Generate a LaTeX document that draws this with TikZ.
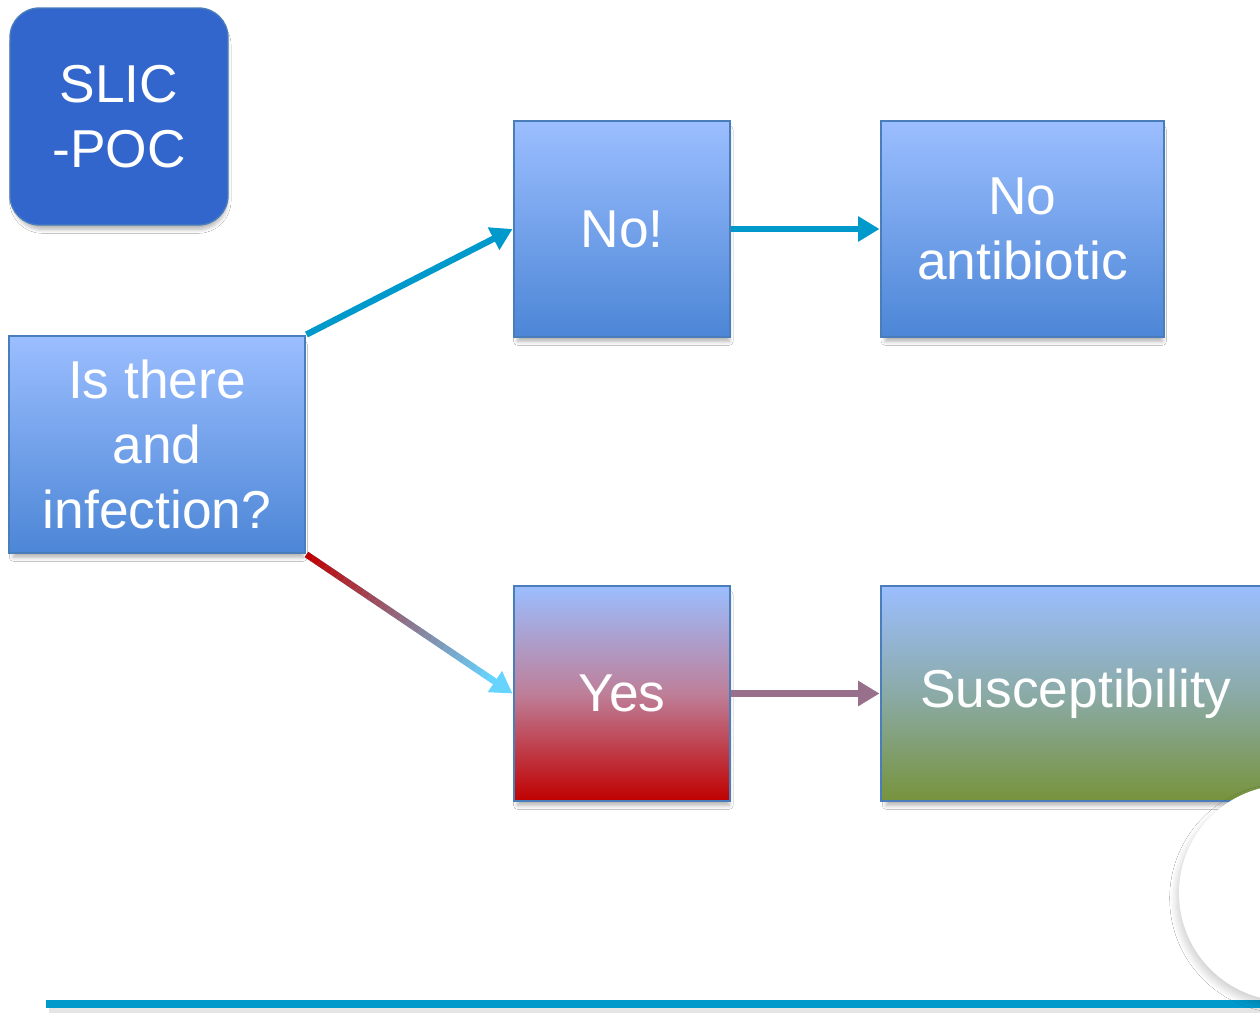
\documentclass[tikz,border=0pt]{standalone}
\usepackage{fontspec}
\setmainfont{Liberation Sans}
\usetikzlibrary{arrows.meta,shadows,shadows.blur,calc}
\definecolor{boxtop}{RGB}{155,190,255}
\definecolor{boxbot}{RGB}{76,134,214}
\definecolor{boxedge}{RGB}{74,126,187}
\definecolor{slicblue}{RGB}{51,102,204}
\definecolor{arrblue}{RGB}{0,153,204}
\definecolor{yesred}{RGB}{192,0,0}
\definecolor{arrcyan}{RGB}{102,212,255}
\definecolor{susgreen}{RGB}{119,147,60}
\definecolor{mauve}{RGB}{152,112,140}
\tikzset{
  softshadow/.style={blur shadow={shadow xshift=1pt, shadow yshift=-5pt, shadow scale=0.98, shadow blur radius=3pt, shadow blur steps=8, shadow opacity=30}},
  card/.style={rectangle, draw=boxedge, line width=2.2pt, top color=boxtop, bottom color=boxbot,
    text=white, font=\fontsize{40}{48.75}\selectfont, align=center, inner sep=0pt, softshadow},
  flowarrow/.style={line width=4.8pt, -{Triangle[length=16pt,width=18pt]}},
}
\begin{document}
\begin{tikzpicture}[x=0.75pt,y=-0.75pt]
\useasboundingbox (0,0) rectangle (1260,1017);
\clip (0,0) rectangle (1260,1017);
\fill[white] (0,0) rectangle (1260,1017);

% bottom rule
\coordinate (ruleA) at (46,1004);
\coordinate (ruleB) at (1262,1004);
\draw[line width=6pt, black, opacity=0.10] ($(ruleA)+(3,5)$) -- ($(ruleB)+(3,5)$);
\draw[line width=6pt, arrblue] (ruleA) -- (ruleB);

% title badge
\node[rectangle, rounded corners=22pt, fill=slicblue, draw=boxedge, line width=1pt,
  minimum width=163.5pt, minimum height=162.75pt, text=white, align=center,
  font=\fontsize{40}{48.75}\selectfont, softshadow] (slic) at (119,116.5) {SLIC\\-POC};

% boxes
\node[card, minimum width=222pt, minimum height=162.75pt] (isthere) at (157,444.5) {Is there\\and\\infection?};
\node[card, minimum width=162pt, minimum height=162pt] (no) at (622,229) {No!};
\node[card, minimum width=212.25pt, minimum height=162pt] (noab) at (1022.5,229) {No\\antibiotic};
\node[card, minimum width=162pt, minimum height=161.25pt, top color=boxtop, bottom color=yesred, middle color=boxtop!50!yesred!80!white] (yes) at (622,693.5) {Yes};
\node[card, minimum width=292.5pt, minimum height=161.25pt, top color=boxtop, bottom color=susgreen, middle color=boxtop!55!susgreen] (susc) at (1076,693.5) {Susceptibility};

% connectors
\draw[flowarrow, arrblue] (isthere.north east) -- (no.west);
\draw[flowarrow, arrblue] (no.east) -- (noab.west);

\draw[flowarrow, arrcyan] (isthere.south east) -- (yes.west);
\foreach \i in {0,...,29}{
  \pgfmathsetmacro\p{100-100*\i/29}
  \draw[line width=4.8pt, color=yesred!\p!arrcyan]
    ($(isthere.south east)!{0.91*\i/30}!(yes.west)$) -- ($(isthere.south east)!{0.91*(\i+1)/30}!(yes.west)$);
}
\draw[flowarrow, mauve] (yes.east) -- (susc.west);

% overlapping white disc
\node[circle, fill=white, minimum size=162pt, inner sep=0pt,
  blur shadow={shadow xshift=-2pt, shadow yshift=-4pt, shadow blur radius=5pt, shadow blur steps=10, shadow opacity=18}] (disc) at (1287,893) {};
\end{tikzpicture}
\end{document}
